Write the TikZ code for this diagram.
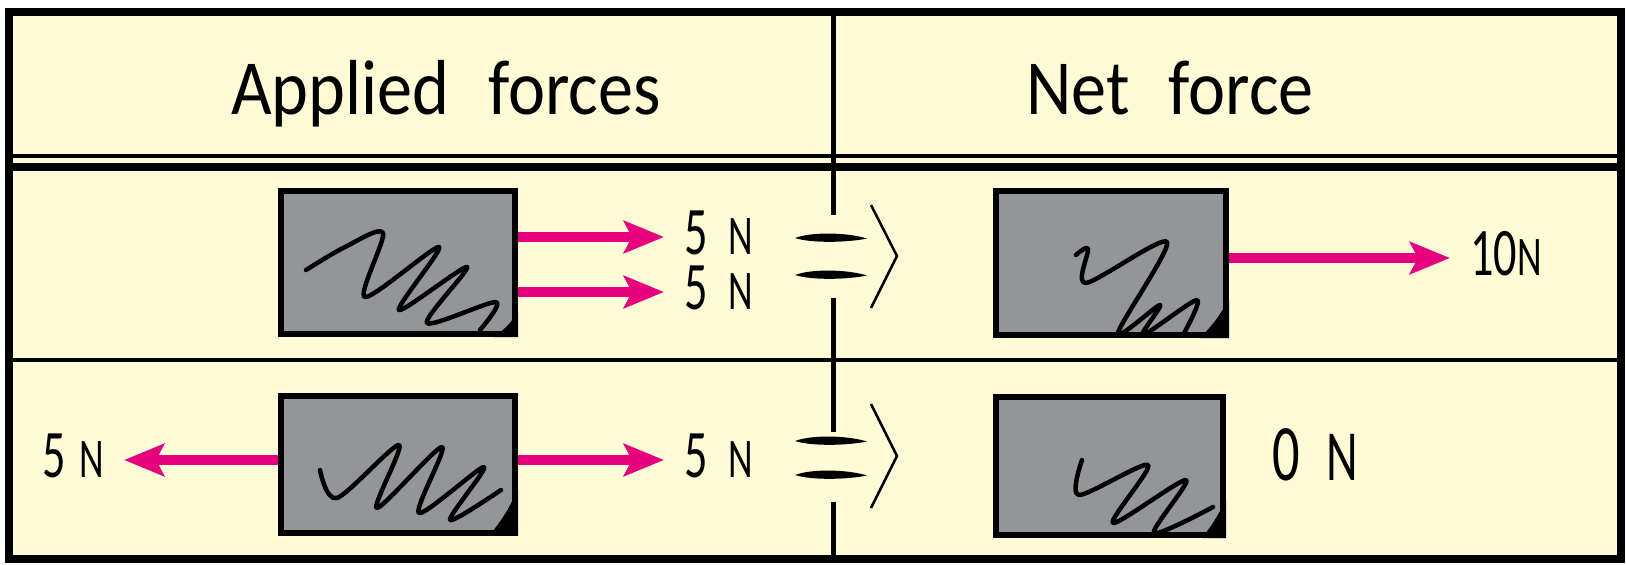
\documentclass[tikz,border=0pt]{standalone}
\usepackage{fontspec}
\setmainfont{Carlito}
\newfontfamily\headfont[FakeStretch=0.9]{Carlito}
\newfontfamily\handfont[FakeStretch=0.68]{Carlito}
\usetikzlibrary{arrows.meta}
\definecolor{paper}{RGB}{255,251,214}
\definecolor{blockgray}{RGB}{147,149,152}
\definecolor{forcepink}{RGB}{230,0,126}
\newcommand\smN{{\fontsize{56pt}{56pt}\selectfont N}}
\newcommand\eqbar[1]{\fill (795,#1) .. controls (812,#1-6.5) and (848,#1-5.5) .. (867,#1+0.5) .. controls (848,#1+4.5) and (812,#1+5.5) .. (795,#1) -- cycle;}

\begin{document}
\begin{tikzpicture}[x=1pt,y=-1pt,
  outline/.style={line width=8pt},
  sepline/.style={line width=4pt},
  blk/.style={draw, fill=blockgray, line width=6pt, inner sep=0pt, rectangle},
  lbl/.style={inner sep=0pt, text height=34pt, text depth=0pt, font=\handfont\fontsize{68pt}{68pt}\selectfont},
  headtxt/.style={inner sep=0pt, font=\headfont\fontsize{78pt}{78pt}\selectfont},
  push/.style={draw=forcepink, line width=10pt, -{Stealth[length=40pt,width=32pt,inset=8pt]}, shorten >=20pt},
  scrib/.style={line width=4.5pt, line cap=round, line join=round},
  chev/.style={line width=2.5pt}
]
\useasboundingbox (0,0) rectangle (1626,565);
\fill[white] (0,0) rectangle (1626,565);
\fill[paper] (9,12) rectangle (1621,559);

% table rules
\draw[sepline] (9,156) -- (1621,156);
\draw[line width=8pt] (9,167) -- (1621,167);
\draw[sepline] (9,360) -- (1621,360);
\draw[line width=5pt] (833,12) -- (833,215);
\draw[line width=5pt] (833,298) -- (833,432);
\draw[line width=5pt] (833,502) -- (833,559);

% column headings
\node[headtxt, anchor=base] (hA) at (446,114) {Applied\hspace{0.5em}forces};
\node[headtxt, anchor=base] (hN) at (1170,114) {Net\hspace{0.5em}force};

% blocks
\node[blk, minimum width=234pt, minimum height=143pt] (bA) at (398,262.5) {};
\node[blk, minimum width=230pt, minimum height=144pt] (bB) at (1111,263) {};
\node[blk, minimum width=234pt, minimum height=137pt] (bC) at (398,464) {};
\node[blk, minimum width=227pt, minimum height=138pt] (bD) at (1109.5,466) {};

% scribbles on the blocks
\draw[scrib] plot[smooth, tension=0.5] coordinates {(306,270) (345,247) (383,233) (365,297) (439,247) (399,310) (467,267) (427,323) (496,302) (480,330)};
\fill (518,312) .. controls (508,326) .. (494,337) -- (518,337) -- cycle;

\draw[scrib] plot[smooth, tension=0.5] coordinates {(1076,255) (1088,249) (1086,283) (1167,242) (1118,333) (1160,305) (1143,335) (1197,300) (1183,335)};
\fill (1229,300) .. controls (1215,322) .. (1200,338) -- (1229,338) -- cycle;

\draw[scrib] plot[smooth, tension=0.5] coordinates {(320,470) (337,498) (399,445) (377,508) (442,447) (419,513) (484,467) (450,520) (501,490)};
\fill (518,490) .. controls (505,515) .. (490,535) -- (518,535) -- cycle;

\draw[scrib] plot[smooth, tension=0.5] coordinates {(1082,460) (1079,495) (1148,465) (1113,523) (1186,480) (1154,533) (1213,507)};
\fill (1226,500) .. controls (1214,522) .. (1202,538) -- (1226,538) -- cycle;

% force labels
\node[lbl, anchor=west] (fA1) at (684,237) {5\hspace{0.3em}\smN};
\node[lbl, anchor=west] (fA2) at (684,292) {5\hspace{0.3em}\smN};
\node[lbl, anchor=west] (fB) at (1470,258) {10\smN};
\node[lbl, anchor=east] (fC1) at (104,460) {5\hspace{0.2em}\smN};
\node[lbl, anchor=west] (fC2) at (684,460) {5\hspace{0.3em}\smN};
\node[lbl, anchor=west, text height=40pt] (fD) at (1272,460) {{\fontsize{80pt}{80pt}\selectfont 0}\hspace{0.4em}{\fontsize{72pt}{72pt}\selectfont N}};

% force arrows
\draw[push] (bA.east |- fA1) -- (fA1.west);
\draw[push] (bA.east |- fA2) -- (fA2.west);
\draw[push] (bB.east |- fB) -- (fB.west);
\draw[push] (bC.west |- fC1) -- (fC1.east);
\draw[push] (bC.east |- fC2) -- (fC2.west);

% "equals, therefore" marks
\eqbar{238}
\eqbar{275}
\draw[chev] (871,205) -- (897,256) -- (871,308);
\eqbar{441}
\eqbar{475}
\draw[chev] (871,404) -- (897,456) -- (871,508);

% outer frame
\draw[outline] (9,12) rectangle (1621,559);
\end{tikzpicture}
\end{document}
